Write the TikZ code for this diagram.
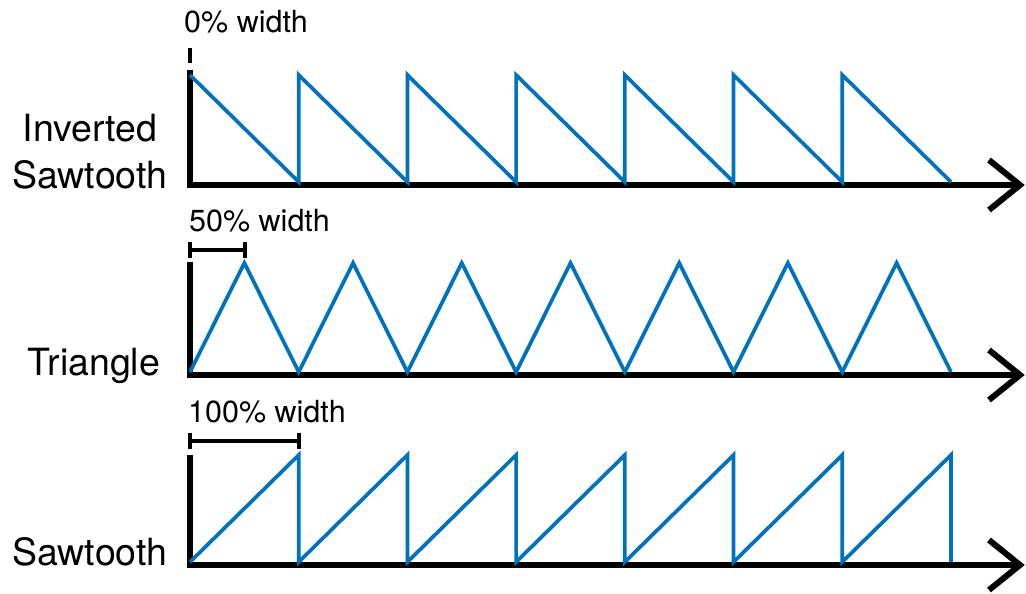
\documentclass[tikz,border=0pt]{standalone}
\usepackage{fontspec}
\setmainfont{TeX Gyre Heros}
\definecolor{wBlue}{HTML}{0072BD}
\usepackage{tikz}
\usetikzlibrary{positioning,calc}

\begin{document}
\begin{tikzpicture}[x=1pt, y=-1pt,
  axisline/.style={line width=6pt, black, line join=miter},
  wave/.style={line width=3.7pt, wBlue, line join=miter},
  bracket/.style={line width=4pt, black},
  wlabel/.style={font=\fontsize{30.5}{36}\selectfont, anchor=base west, inner sep=0pt},
  plabel/.style={font=\fontsize{37.5}{46}\selectfont, anchor=base, align=center, inner sep=0pt}]
\useasboundingbox (0,0) rectangle (1026,594);
\def\per{108.71}
% axes
\foreach \top/\base in {70/185, 262/375, 455/565}{
  \coordinate (ytop) at (190,\top);
  \coordinate (orig) at (190,\base);
  \coordinate (xend) at (1020,\base);
  \draw[axisline] (ytop) -- (orig) -- (xend);
  \draw[axisline, line cap=butt] ($(xend)+(-31,-25)$) -- (xend) -- ($(xend)+(-31,25)$);
}
% inverted sawtooth
\draw[wave] (190,75) \foreach \k in {1,...,6}{ -- ({190+\k*\per},182) -- ({190+\k*\per},75)} -- (951,182);
% triangle
\draw[wave] (190,372) \foreach \k in {0,...,6}{ -- ({190+(\k+0.5)*\per},263) -- ({190+(\k+1)*\per},372)};
% sawtooth
\draw[wave] (190,562) \foreach \k in {1,...,7}{ -- ({190+\k*\per},455) -- ({190+\k*\per},562)};
% width brackets
\draw[bracket] (190,48) -- (190,63);
\draw[bracket] (190,242) -- (190,258) (190,250) -- (245,250) (245,242) -- (245,258);
\draw[bracket] (190,433) -- (190,449) (190,441) -- (299,441) (299,433) -- (299,449);
\node[wlabel] (lblZero) at (184,33) {0\% width};
\node[wlabel] (lblHalf) at (189,231) {50\% width};
\node[wlabel] (lblFull) at (188,422) {100\% width};
% waveform names
\node[plabel] (nameInv) at (90,141) {Inverted};
\node[plabel] (nameInvB) at (90,188) {Sawtooth};
\node[plabel] (nameTri) at (94,375) {Triangle};
\node[plabel] (nameSaw) at (90,565) {Sawtooth};
\end{tikzpicture}
\end{document}
